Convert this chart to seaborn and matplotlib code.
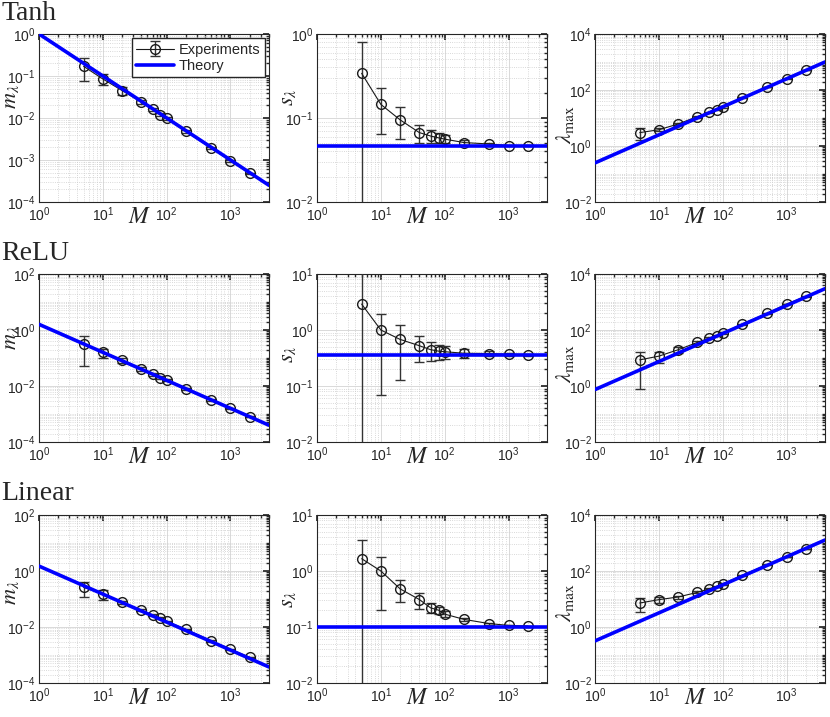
import numpy as np
import pandas as pd
import seaborn as sns
import matplotlib.pyplot as plt
from matplotlib.ticker import LogLocator, NullFormatter

# DATA
M = [5, 10, 20, 40, 60, 80, 100, 200, 500, 1000, 2000]
M_theory = [1, 4000]

# Tanh
tanh_m = [0.17, 0.085, 0.045, 0.024, 0.016, 0.012, 0.0098, 0.0048, 0.0019, 0.00095, 0.00048]
tanh_m_sd = [0.095, 0.025, 0.009, 0.003, 0.0015, 0.001, 0.0008, 0.0003, 0.0001, 0.00005, 0.00002]
tanh_s = [0.34, 0.145, 0.095, 0.067, 0.061, 0.058, 0.056, 0.051, 0.049, 0.047, 0.047]
tanh_s_sd = [0.47, 0.08, 0.039, 0.016, 0.011, 0.008, 0.006, 0.003, 0.0015, 0.001, 0.0007]
tanh_l = [3.0, 3.8, 6.1, 11.2, 16, 20, 24.7, 52, 127, 253, 515]
tanh_l_sd = [1.4, 0.5, 0.6, 0.8, 1, 1, 1.2, 2, 3, 5, 8]
tanh_m_th = [1.0, 2.5e-4]
tanh_s_th = [0.046, 0.046]
tanh_l_th = [0.25, 1000]

# ReLU
relu_m = [0.33, 0.16, 0.083, 0.041, 0.026, 0.02, 0.0165, 0.008, 0.0032, 0.0016, 0.00081]
relu_m_sd = [0.28, 0.057, 0.019, 0.006, 0.003, 0.002, 0.0015, 0.0005, 0.0002, 0.0001, 0.00004]
relu_s = [2.9, 1.0, 0.68, 0.525, 0.446, 0.42, 0.41, 0.385, 0.38, 0.37, 0.365]
relu_s_sd = [8.0, 0.93, 0.55, 0.26, 0.17, 0.13, 0.1, 0.07, 0.04, 0.025, 0.015]
relu_l = [8.6, 11.7, 19.8, 36, 51, 63.6, 79, 163, 400, 846, 1600]
relu_l_sd = [7.8, 5, 5, 4, 4, 4, 5, 8, 15, 25, 40]
relu_m_th = [1.6, 4e-4]
relu_s_th = [0.363, 0.363]
relu_l_th = [0.75, 3000]

# Linear
lin_m = [0.26, 0.15, 0.076, 0.04, 0.026, 0.021, 0.016, 0.0083, 0.0032, 0.0016, 0.00083]
lin_m_sd = [0.14, 0.06, 0.01, 0.004, 0.002, 0.0015, 0.001, 0.0004, 0.0002, 0.0001, 0.00004]
lin_s = [1.66, 1.0, 0.48, 0.31, 0.22, 0.2, 0.17, 0.137, 0.115, 0.107, 0.104]
lin_s_sd = [1.94, 0.8, 0.2, 0.1, 0.045, 0.03, 0.02, 0.01, 0.005, 0.003, 0.002]
lin_l = [7.2, 9.5, 11.8, 17.3, 22.7, 28.5, 34.4, 70, 168, 316, 615]
lin_l_sd = [3.8, 2.2, 1.5, 1.5, 1.5, 1.5, 2, 3, 5, 8, 12]
lin_m_th = [1.5, 3.75e-4]
lin_s_th = [0.1, 0.1]
lin_l_th = [0.32, 1280]

row_names = ["Tanh", "ReLU", "Linear"]
ylabels = [r"$m_\lambda$", r"$s_\lambda$", r"$\lambda_{\rm max}$"]

panels = [
    [(tanh_m, tanh_m_sd, tanh_m_th), (tanh_s, tanh_s_sd, tanh_s_th), (tanh_l, tanh_l_sd, tanh_l_th)],
    [(relu_m, relu_m_sd, relu_m_th), (relu_s, relu_s_sd, relu_s_th), (relu_l, relu_l_sd, relu_l_th)],
    [(lin_m, lin_m_sd, lin_m_th), (lin_s, lin_s_sd, lin_s_th), (lin_l, lin_l_sd, lin_l_th)],
]

# y ranges: (low exp, high exp, step)
yranges = [
    [(-4, 0, 1), (-2, 0, 1), (-2, 4, 2)],
    [(-4, 2, 2), (-2, 1, 1), (-2, 4, 2)],
    [(-4, 2, 2), (-2, 1, 1), (-2, 4, 2)],
]
ylab_y = [[0.63, 0.62, 0.46], [0.62, 0.52, 0.47], [0.54, 0.50, 0.48]]
ylab_x = [-0.122, -0.13, -0.13]

sns.set_theme(style="white")
plt.rcParams["font.family"] = ["Liberation Sans", "DejaVu Sans"]
plt.rcParams["mathtext.fontset"] = "stix"

fig = plt.figure(figsize=(8.3, 7.17), dpi=100)

lefts = [0.047, 0.382, 0.717]
bottoms = [0.7183, 0.3835, 0.0474]
title_y = [1 - 1 / 717, 1 - 241 / 717, 1 - 481 / 717]

for i in range(3):
    fig.text(0.002, title_y[i], row_names[i], family="Liberation Serif",
             fontsize=20, va="top", ha="left")
    for j in range(3):
        ax = fig.add_axes([lefts[j], bottoms[i], 0.277, 0.2343])
        ax.set_xscale("log")
        ax.set_yscale("log")
        y, sd, th = panels[i][j]

        ax.errorbar(M, y, yerr=sd, fmt="-o", color="k", ecolor="0.2",
                    mfc="none", mec="k", ms=7, lw=0.8, elinewidth=1.0,
                    capsize=3.5, capthick=1.0, label="Experiments", zorder=3)
        theory = pd.DataFrame({"M": M_theory, "val": th})
        sns.lineplot(data=theory, x="M", y="val", color=(0, 0, 1), lw=2.6,
                     ax=ax, label="Theory", zorder=4)

        lo, hi, step = yranges[i][j]
        ax.set_xlim(1, 4000)
        ax.set_ylim(10.0 ** lo, 10.0 ** hi)
        ax.set_xticks([1, 10, 100, 1000])
        ax.set_yticks([10.0 ** k for k in range(lo, hi + 1, step)])
        ax.xaxis.set_minor_locator(LogLocator(base=10, subs=np.arange(1, 10) * 1.0, numticks=100))
        ax.yaxis.set_minor_locator(LogLocator(base=10, subs=np.arange(1, 10) * 1.0, numticks=100))
        ax.xaxis.set_minor_formatter(NullFormatter())
        ax.yaxis.set_minor_formatter(NullFormatter())

        ax.grid(True, which="major", color="0.85", lw=0.7)
        ax.grid(True, which="minor", color="0.8", ls=":", lw=0.6)
        ax.tick_params(which="both", direction="in", top=True, right=True,
                       labelsize=10, labelcolor="0.15", color="0.15", pad=2.5)
        ax.tick_params(which="major", length=4)
        ax.tick_params(which="minor", length=2)
        for sp in ax.spines.values():
            sp.set_color("0.15")
            sp.set_linewidth(0.8)

        ax.set_xlabel(r"$M$", fontsize=17, va="center", ha="center")
        ax.xaxis.set_label_coords(0.435, -0.09)
        ax.set_ylabel(ylabels[j], fontsize=16, va="center", ha="center")
        ax.yaxis.set_label_coords(ylab_x[j], ylab_y[i][j])

        leg = ax.get_legend()
        if leg is not None:
            leg.remove()
        if i == 0 and j == 0:
            handles, labels = ax.get_legend_handles_labels()
            order = [labels.index("Experiments"), labels.index("Theory")]
            ax.legend([handles[k] for k in order], [labels[k] for k in order],
                      loc="upper right", fontsize=10.5, fancybox=False,
                      framealpha=1, edgecolor="0.15", borderaxespad=0.3,
                      handlelength=2.6, borderpad=0.3, labelspacing=0.15,
                      handletextpad=0.3)

fig.savefig("out.png", dpi=100)
